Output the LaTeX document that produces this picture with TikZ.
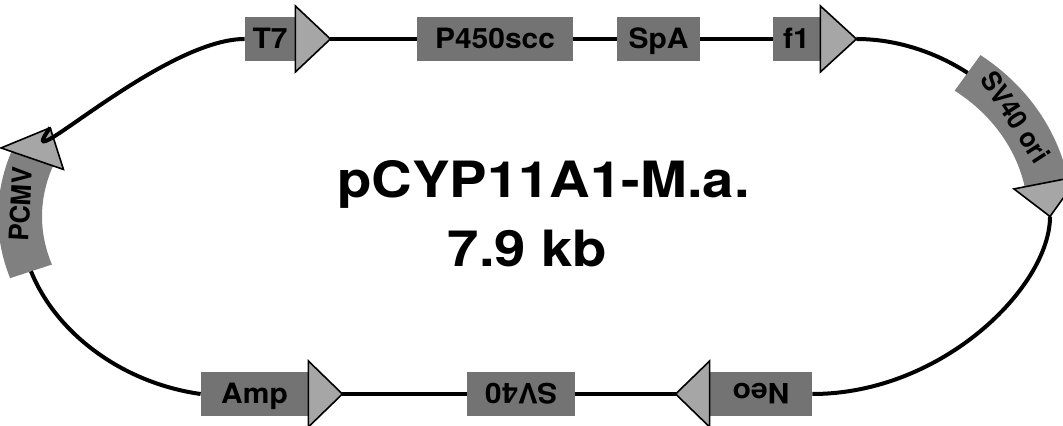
\documentclass[tikz,border=0pt]{standalone}
\usepackage{fontspec}
\usepackage{tikz}
\usetikzlibrary{calc,positioning}
\newfontfamily\labfont[FakeStretch=1.07]{TeX Gyre Heros}
\newfontfamily\bandfont[FakeStretch=0.95]{TeX Gyre Heros}
\newfontfamily\titlefont[FakeStretch=1.125]{TeX Gyre Heros}
\tikzset{
  feat/.style={rectangle,fill=black!55,minimum height=22pt,inner sep=0pt,
    font=\labfont\bfseries\fontsize{14pt}{16pt}\selectfont,text height=10pt,text depth=0pt},
  band/.style={fill=black!50},
  bandlab/.style={inner sep=0pt,font=\bandfont\bfseries\fontsize{13.5pt}{16pt}\selectfont},
  head/.style={draw=black,line width=0.8pt,fill=black!35,line join=miter},
  strand/.style={line width=2pt,black},
  mapname/.style={inner sep=0pt,font=\titlefont\bfseries\fontsize{25pt}{30pt}\selectfont},
}

\begin{document}
\begin{tikzpicture}[x=0.5pt,y=0.5pt]
  \useasboundingbox (0,0) rectangle (1063,426);
  % ---- top strand ----
  \node[feat,minimum width=25pt] (t7) at (270,387) {T7};
  \node[feat,minimum width=78pt] (p450) at (495,387) {P450scc};
  \node[feat,minimum width=41.5pt] (spa) at (658.5,387) {SpA};
  \node[feat,minimum width=23.5pt] (f1) at (796.5,387) {f1};
  \coordinate (t7tip) at ($(t7.east)+(35,0)$);
  \coordinate (f1tip) at ($(f1.east)+(36,0)$);
  \draw[head] ($(t7.east)+(0,33)$) -- (t7tip) -- ($(t7.east)+(0,-33)$) -- cycle;
  \draw[head] ($(f1.east)+(0,33)$) -- (f1tip) -- ($(f1.east)+(0,-33)$) -- cycle;
  % ---- bottom strand (Neo and SV40 are turned over) ----
  \node[feat,minimum width=53.5pt] (amp) at (254.5,32) {Amp};
  \node[feat,minimum width=54pt,rotate=180] (sv40) at (521,32) {SV40};
  \node[feat,minimum width=51pt,rotate=180] (neo) at (761,32) {Neo};
  \coordinate (amptip) at ($(amp.east)+(34,0)$);
  \coordinate (neotip) at ($(neo.east)+(-34,0)$);
  \draw[head] ($(amp.east)+(0,33)$) -- (amptip) -- ($(amp.east)+(0,-33)$) -- cycle;
  \draw[head] ($(neo.east)+(0,33)$) -- (neotip) -- ($(neo.east)+(0,-33)$) -- cycle;
  % ---- left arc: PCMV sits on the curve ----
  \fill[band] plot[domain=161:198,samples=25] ({245+247*cos(\x)},{209.5+199.5*sin(\x)})
    -- plot[domain=198:161,samples=25] ({245+203*cos(\x)},{209.5+155.5*sin(\x)}) -- cycle;
  \coordinate (pcmvtip) at ({245+225*cos(150)},{209.5+177.5*sin(150)});
  \coordinate (pcmvend) at ({245+225*cos(198)},{209.5+177.5*sin(198)});
  \draw[head] ({245+258*cos(161)},{209.5+210.5*sin(161)}) -- (pcmvtip)
    -- ({245+192*cos(161)},{209.5+144.5*sin(161)}) -- cycle;
  \node[bandlab,rotate=87] (pcmv) at ({245+225*cos(176)},{209.5+177.5*sin(176)}) {PCMV};
  % ---- right arc: SV40 ori ----
  \fill[band] plot[domain=11:54,samples=25] ({850+222*cos(\x)},{209.5+199.5*sin(\x)})
    -- plot[domain=54:11,samples=25] ({850+178*cos(\x)},{209.5+155.5*sin(\x)}) -- cycle;
  \coordinate (oristart) at ({850+200*cos(54)},{209.5+177.5*sin(54)});
  \coordinate (oritip) at (1050,209.5);
  \draw[head] ({850+233*cos(11)},{209.5+210.5*sin(11)}) -- (oritip)
    -- ({850+167*cos(11)},{209.5+144.5*sin(11)}) -- cycle;
  \node[bandlab,rotate=-57] (ori) at ({850+200*cos(34)},{209.5+177.5*sin(34)}) {SV40 ori};
  % ---- the backbone ----
  \draw[strand] (t7tip) -- (p450.west);
  \draw[strand] (p450.east) -- (spa.west);
  \draw[strand] (spa.east) -- (f1.west);
  \draw[strand] (f1tip) to[out=0,in=147,out distance=20pt,in distance=19pt] (oristart);
  \draw[strand] (oritip) to[out=-90,in=0,out distance=35pt,in distance=65pt] (neo.west);
  \draw[strand] (neotip) -- (sv40.west);
  \draw[strand] (sv40.east) -- (amptip);
  \draw[strand] (pcmvend) to[out=-68,in=172,out distance=33pt,in distance=40pt] (amp.west);
  \draw[strand] (t7.west) to[out=180,in=234,out distance=42pt,in distance=36pt] (pcmvtip);
  % ---- name and size ----
  \node[mapname,anchor=base] (name) at (543.5,228) {pCYP11A1-M.a.};
  \node[mapname,anchor=base] (size) at (527.5,159) {7.9 kb};
\end{tikzpicture}
\end{document}
